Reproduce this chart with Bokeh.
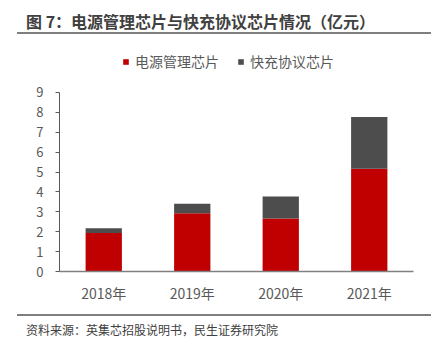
from bokeh.plotting import figure
from bokeh.layouts import column
from bokeh.models import (ColumnDataSource, FactorRange, Range1d, Legend, LegendItem,
                          FixedTicker, Div)
from bokeh.embed import file_html
from bokeh.resources import INLINE

# ---- data ----
years = ["2018年", "2019年", "2020年", "2021年"]
power_mgmt = [1.93, 2.93, 2.66, 5.16]      # 电源管理芯片
fast_charge = [0.25, 0.47, 1.11, 2.60]     # 快充协议芯片
series_names = ["电源管理芯片", "快充协议芯片"]
y_ticks = [0, 1, 2, 3, 4, 5, 6, 7, 8, 9]
title_text = "图 7：电源管理芯片与快充协议芯片情况（亿元）"
source_text = "资料来源：英集芯招股说明书，民生证券研究院"

RED = "#C00000"
DARK = "#4D4D4D"
CJK = "Noto Sans CJK SC"
W = 445

header = Div(width=W, height=45, margin=0, text=(
    f'<div style="position:absolute;left:26px;top:9px;font-family:\'{CJK}\';'
    f'font-size:16px;font-weight:bold;color:#404040;line-height:24px;white-space:nowrap">'
    f'{title_text}</div>'
    '<div style="position:absolute;left:17px;top:32px;width:414px;height:2px;'
    'background:#7F7F7F"></div>'))

src = ColumnDataSource(dict(year=years, pm=power_mgmt, fc=fast_charge))
p = figure(width=W, height=260, x_range=FactorRange(*years, range_padding=0),
           y_range=Range1d(0, 11.36), output_backend="svg", toolbar_location=None,
           min_border_left=59, min_border_right=32, min_border_top=0, min_border_bottom=34)
rs = p.vbar_stack(["pm", "fc"], x="year", width=0.41, source=src,
                  color=[RED, DARK], line_color=None)
p.grid.visible = False
p.outline_line_color = None
p.yaxis.ticker = FixedTicker(ticks=y_ticks)
p.yaxis.bounds = (y_ticks[0], y_ticks[-1])
p.yaxis.major_tick_in = 0
p.yaxis.major_tick_out = 4
p.yaxis.minor_tick_line_color = None
p.yaxis.axis_line_color = "#595959"
p.yaxis.major_tick_line_color = "#595959"
p.yaxis.major_label_text_font = CJK
p.yaxis.major_label_text_font_size = "13px"
p.yaxis.major_label_text_color = "#595959"
p.yaxis.major_label_standoff = 12
p.xaxis.major_tick_line_color = None
p.xaxis.axis_line_color = "#808080"
p.xaxis.axis_line_width = 1.5
p.xaxis.major_label_text_font = CJK
p.xaxis.major_label_text_font_size = "14px"
p.xaxis.major_label_text_color = "#595959"
p.xaxis.major_label_standoff = 5

legend = Legend(items=[LegendItem(label=series_names[0], renderers=[rs[0]]),
                       LegendItem(label=series_names[1], renderers=[rs[1]])],
                orientation="horizontal", location=(63, 200), border_line_color=None,
                background_fill_alpha=0, glyph_width=7, glyph_height=7, label_standoff=6,
                spacing=18, padding=0, margin=0, label_text_font=CJK,
                label_text_font_size="14px", label_text_color="#595959")
p.add_layout(legend)

footer = Div(width=W, height=40, margin=0, text=(
    '<div style="position:absolute;left:17px;top:9px;width:414px;height:2px;'
    'background:#7F7F7F"></div>'
    f'<div style="position:absolute;left:26px;top:16px;font-family:\'{CJK}\';'
    f'font-size:12px;color:#404040;line-height:18px;white-space:nowrap">'
    f'{source_text}</div>'))

layout = column(header, p, footer, spacing=0)
open("out.html", "w").write(file_html(layout, INLINE))
